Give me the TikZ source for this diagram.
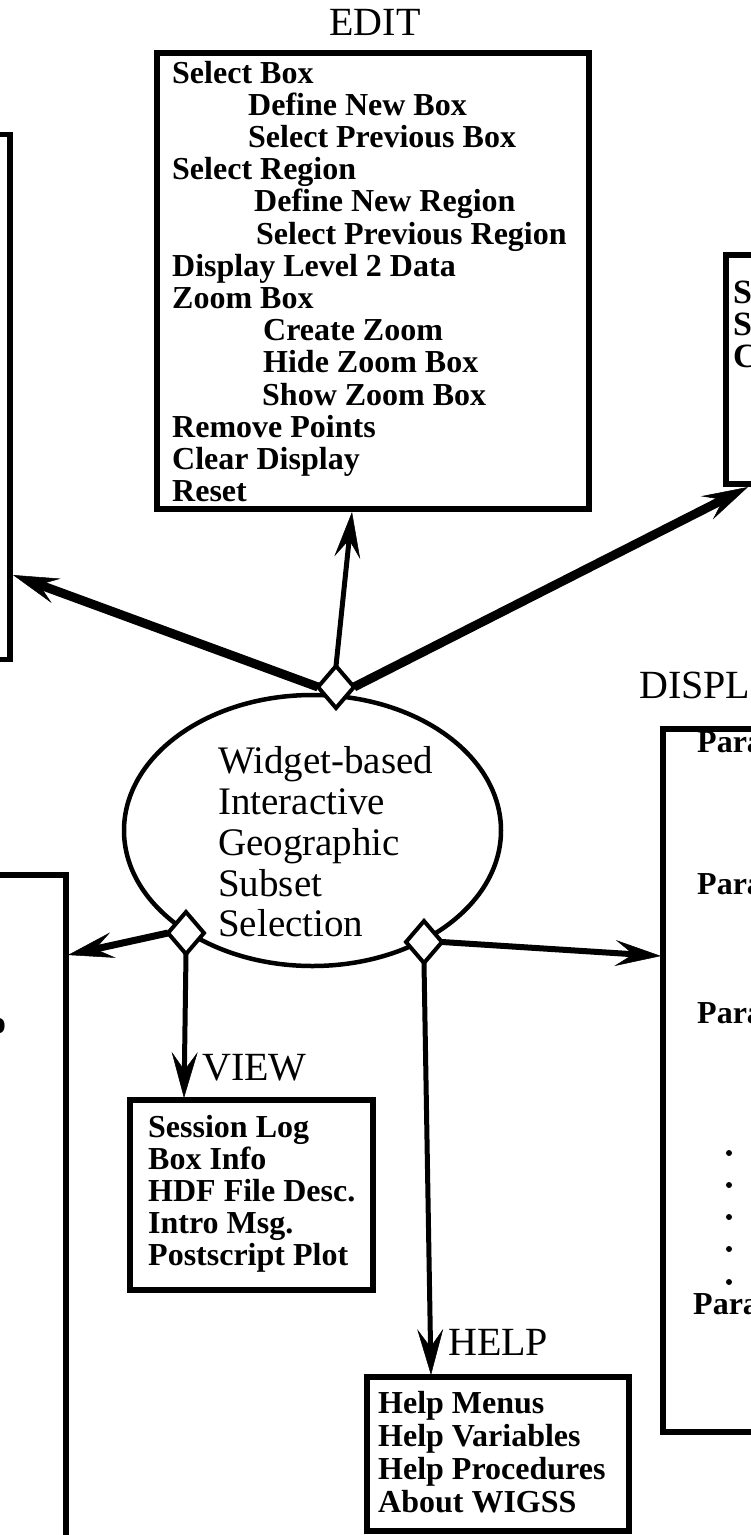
\documentclass[tikz,border=0pt]{standalone}
\usepackage{fontspec}
\setmainfont{Liberation Serif}
\usetikzlibrary{shapes.geometric,arrows.meta}
\tikzset{
  box/.style={draw, line width=5.5pt, rectangle, inner sep=0pt, outer sep=0pt},
  item/.style={font=\bfseries\fontsize{32}{34}\selectfont, inner sep=0pt, anchor=base west},
  head/.style={font=\fontsize{40}{42}\selectfont, inner sep=0pt},
  wtext/.style={font=\fontsize{39}{41}\selectfont, inner sep=0pt, anchor=base west},
  dia/.style={diamond, draw, fill=white, line width=4pt, minimum width=36pt, minimum height=42pt, inner sep=0pt, outer sep=0pt},
  conn/.style={-{Stealth[length=46pt,width=26pt,inset=18pt,line width=0.5pt]}},
  dotmark/.style={circle, fill, inner sep=0pt, minimum size=6pt},
}
\begin{document}
\begin{tikzpicture}[x=1pt,y=-1pt]
\useasboundingbox (0,0) rectangle (751,1535);
\fill[white] (0,0) rectangle (751,1535);

% boxes
\node[box, anchor=north west, minimum width=432pt, minimum height=456pt] (edit) at (157,53) {};
\node[box, anchor=north east, minimum width=80pt, minimum height=525pt] (ltop) at (10,134.5) {};
\node[box, anchor=north east, minimum width=130pt, minimum height=760pt] (lbot) at (66,875) {};
\node[box, anchor=north west, minimum width=100pt, minimum height=229pt] (rtop) at (726,255) {};
\node[box, anchor=north west, minimum width=140pt, minimum height=703pt] (disp) at (663,729) {};
\node[box, anchor=north west, minimum width=243pt, minimum height=190pt] (view) at (130,1100) {};
\node[box, anchor=north west, minimum width=262pt, minimum height=154pt] (help) at (367,1377) {};

% central ellipse
\node[ellipse, draw, line width=4.5pt, minimum width=377pt, minimum height=271pt, inner sep=0pt] (wig) at (312.5,830.5) {};

% diamonds
\node[dia] (dtop) at (336,687) {};
\node[dia] (dview) at (186,933) {};
\node[dia] (dhelp) at (424,942) {};

% arrow tips
\coordinate (tEdit) at (352,512);
\coordinate (tLtop) at (13,575);
\coordinate (tRtop) at (748,487);
\coordinate (tLbot) at (68,955);
\coordinate (tView) at (184,1098);
\coordinate (tHelp) at (431,1375);
\coordinate (tDisp) at (661,956);

% connectors
\draw[conn, line width=5pt] (dtop.north) -- (tEdit);
\draw[conn, line width=9pt] (dtop.west) -- (tLtop);
\draw[conn, line width=9pt] (dtop.east) -- (tRtop);
\draw[conn, line width=7pt] (dview.west) -- (tLbot);
\draw[conn, line width=5pt] (dview.south) -- (tView);
\draw[conn, line width=5pt] (dhelp.south) -- (tHelp);
\draw[conn, line width=6pt] (dhelp.east) -- (tDisp);

% headings
\node[head, anchor=base] (hedit) at (375,35) {EDIT};
\node[head, anchor=base west] (hdisp) at (639,698) {DISPL};
\node[head, anchor=base west] (hview) at (202,1080) {VIEW};
\node[head, anchor=base west] (hhelp) at (448,1355) {HELP};

% EDIT menu
\foreach \txt/\xx/\yy [count=\i] in {
  Select Box/172/83,
  Define New Box/248/115.2,
  Select Previous Box/248/147.4,
  Select Region/172/179.6,
  Define New Region/254/211.8,
  Select Previous Region/256/244,
  Display Level 2 Data/172/276.2,
  Zoom Box/172/308.4,
  Create Zoom/263/340.6,
  Hide Zoom Box/263/372.8,
  Show Zoom Box/262/405,
  Remove Points/172/437.2,
  Clear Display/172/469.4,
  Reset/172/501.6}
  {\node[item] (e\i) at (\xx,\yy) {\txt};}

% VIEW menu
\foreach \txt/\yy [count=\i] in {
  Session Log/1137,
  Box Info/1169,
  HDF File Desc./1201,
  Intro Msg./1233,
  Postscript Plot/1265}
  {\node[item] (v\i) at (148,\yy) {\txt};}

% HELP menu
\foreach \txt/\yy [count=\i] in {
  Help Menus/1413,
  Help Variables/1446,
  Help Procedures/1479,
  About WIGSS/1512}
  {\node[item] (h\i) at (378,\yy) {\txt};}

% ellipse text
\foreach \txt/\yy [count=\i] in {
  Widget-based/773,
  Interactive/814,
  Geographic/855,
  Subset/896,
  Selection/936}
  {\node[wtext] (w\i) at (218,\yy) {\txt};}

% right top box (cut off)
\node[item, font=\bfseries\fontsize{34}{36}\selectfont] (r1) at (733,303) {S};
\node[item, font=\bfseries\fontsize{34}{36}\selectfont] (r2) at (733,335) {S};
\node[item, font=\bfseries\fontsize{34}{36}\selectfont] (r3) at (733,367) {C};

% DISPLAY box (cut off)
\node[item] (p1) at (697,752) {Para};
\node[item] (p2) at (697,894) {Para};
\node[item] (p3) at (697,1023) {Para};
\node[item] (p4) at (693,1314) {Para};
\foreach \yy [count=\i] in {1153,1185,1217,1249,1282}
  {\node[dotmark] (dot\i) at (729,\yy) {};}

% cut-off glyph at left edge
\node[item, anchor=base east] (lglyph) at (6,1033) {o};
\end{tikzpicture}
\end{document}
